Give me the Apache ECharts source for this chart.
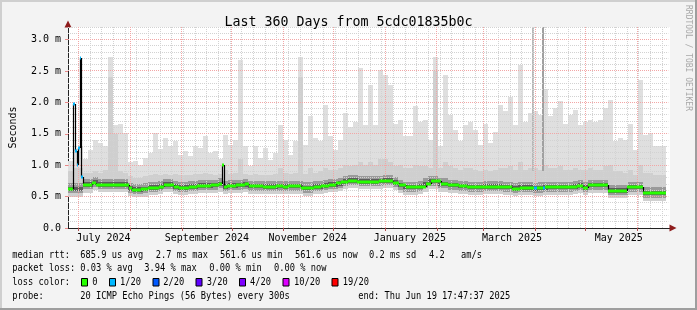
<!DOCTYPE html>
<html>
<head>
<meta charset="utf-8">
<script src="https://cdn.jsdelivr.net/npm/echarts@6/dist/echarts.min.js"></script>
<style>
html, body { margin: 0; padding: 0; background: #f3f3f3; }
#smokeChart { width: 697px; height: 310px; }
</style>
</head>
<body>
<div id="smokeChart"></div>
<script>
// x is in days counted from Mon 24 Jun 2024 00:00
var startDay = 0.741;   // 24 Jun 2024 17:47
var endDay = 360.741;   // 19 Jun 2025 17:47
var dataEnd = 359.2;
var binDays = 3;

// smoke, one value per 3 day bin (ms)
var smokeMax = [
  1.06, 1.25, 1.30, 1.10, 1.24, 1.40, 1.35, 1.30, 2.72, 1.64,
  1.65, 1.51, 1.05, 1.06, 1.00, 1.11, 1.19, 1.51, 1.25, 1.43,
  1.30, 1.38, 1.16, 1.22, 1.14, 1.30, 1.27, 1.46, 1.20, 1.22,
  1.10, 1.48, 1.32, 1.40, 2.68, 1.30, 0.98, 1.30, 1.11, 1.27,
  1.09, 1.19, 1.64, 1.40, 1.16, 1.38, 2.73, 1.32, 1.78, 1.43,
  1.38, 1.96, 1.46, 1.24, 1.40, 1.83, 1.61, 1.69, 2.55, 1.64,
  2.28, 1.64, 2.52, 2.44, 2.28, 1.66, 1.72, 1.46, 1.46, 1.94,
  1.69, 1.72, 1.40, 2.73, 1.30, 2.44, 1.80, 1.56, 1.38, 1.64,
  1.69, 1.56, 1.32, 1.66, 1.35, 1.53, 1.96, 1.86, 2.09, 1.64,
  2.60, 1.69, 1.83, 1.86, 1.80, 2.22, 1.78, 1.91, 2.02, 1.66,
  1.80, 1.88, 1.64, 1.69, 1.72, 1.69, 1.72, 1.91, 2.04, 1.38,
  1.43, 1.40, 1.66, 1.24, 2.36, 1.48, 1.51, 1.30, 1.30, 1.30
];
var smokeHi = [
  0.90, 0.95, 0.95, 0.88, 0.88, 0.90, 0.88, 0.92, 2.40, 1.50,
  0.90, 0.88, 0.82, 0.80, 0.80, 0.82, 0.84, 0.86, 0.84, 0.86,
  0.84, 0.86, 0.84, 0.85, 0.84, 0.86, 0.86, 0.88, 0.86, 0.85,
  0.86, 0.92, 0.86, 0.88, 1.10, 0.86, 0.84, 0.86, 0.84, 0.85,
  0.84, 0.86, 0.95, 0.88, 0.86, 0.88, 2.40, 0.86, 0.95, 0.88,
  0.90, 0.95, 0.92, 0.92, 0.95, 1.00, 0.98, 1.00, 1.05, 1.00,
  1.05, 1.00, 1.10, 1.10, 1.05, 0.98, 1.00, 0.95, 0.95, 1.00,
  0.98, 0.98, 0.95, 2.50, 0.95, 1.05, 0.98, 0.95, 0.92, 0.95,
  0.95, 0.92, 0.90, 0.92, 0.90, 0.92, 0.95, 0.95, 0.98, 0.92,
  1.05, 0.92, 0.95, 0.95, 0.92, 1.00, 0.95, 0.95, 0.98, 0.92,
  0.92, 0.95, 0.92, 0.92, 0.95, 0.92, 0.92, 0.98, 1.00, 0.90,
  0.90, 0.88, 0.92, 0.85, 1.00, 0.88, 0.88, 0.85, 0.85, 0.85
];
// single samples that went off the top
var outlierDay = [279.2, 284.9];
var outlierTop = [3.2, 3.2];

// median rtt, step changes
var medDay = [
  0.741, 3.73, 4.81, 6.0, 7.02, 7.92, 8.81, 10.01, 15.4, 17.8,
  37.5, 39.3, 44.7, 48.9, 55.5, 58.5, 64.4, 67.4, 73.4, 78.2,
  86.6, 91.3, 93.3, 94.0, 96.1, 101.5, 106.9, 109.3, 117.7, 125.4,
  129.6, 132.6, 140.4, 148.2, 152.3, 157.1, 161.3, 164.3, 168.5, 173.9,
  187.0, 191.2, 195.4, 199.0, 203.2, 212.2, 215.2, 218.2, 224.2, 228.4,
  235.0, 240.3, 251.1, 263.0, 267.2, 272.0, 280.4, 282.1, 285.5, 286.6,
  289.9, 303.1, 306.1, 309.7, 312.6, 324.6, 336.0, 345.6
];
var medVal = [
  0.62, 1.98, 1.22, 1.0, 1.28, 2.7, 0.81, 0.685, 0.72, 0.69,
  0.63, 0.61, 0.62, 0.64, 0.66, 0.69, 0.66, 0.64, 0.655, 0.67,
  0.68, 0.70, 1.0, 0.655, 0.67, 0.68, 0.695, 0.665, 0.66, 0.665,
  0.655, 0.665, 0.635, 0.655, 0.67, 0.69, 0.71, 0.74, 0.75, 0.74,
  0.745, 0.755, 0.72, 0.68, 0.65, 0.66, 0.70, 0.745, 0.70, 0.68,
  0.665, 0.65, 0.655, 0.65, 0.625, 0.64, 0.63, 0.635, 0.64, 0.645,
  0.65, 0.66, 0.675, 0.64, 0.68, 0.595, 0.65, 0.555
];
var medLoss = [
  0, 1, 1, 1, 1, 1, 1, 0, 0, 0,
  0, 0, 0, 0, 0, 0, 0, 0, 0, 0,
  0, 0, 0, 0, 0, 0, 0, 0, 0, 0,
  0, 0, 0, 0, 0, 0, 0, 0, 0, 0,
  0, 0, 0, 0, 0, 0, 0, 0, 0, 0,
  0, 0, 0, 0, 0, 0, 1, 0, 1, 0,
  0, 0, 0, 0, 0, 0, 0, 0
];

var monthStartDays = [7, 38, 69, 99, 130, 160, 191, 222, 250, 281, 311, 342];
var monthLabelDays = [22, 84, 144.5, 205.8, 267, 331];
var monthLabels = ['July 2024', 'September 2024', 'November 2024', 'January 2025', 'March 2025', 'May 2025'];
var yLabelValues = [0, 0.5, 1, 1.5, 2, 2.5, 3];
var lossColors = ['#26ff00', '#00b8ff', '#0059ff', '#5e00ff', '#7e00ff', '#dd00ff', '#ff0000'];
var lossNames = ['0', '1/20', '2/20', '3/20', '4/20', '10/20', '19/20'];

var mono = '"DejaVu Sans Mono", monospace';
var majorColor = '#f2a6a6';
var minorColor = '#d2d2d2';

function medianAt(d) {
  var v = medVal[0];
  for (var j = 0; j < medDay.length; j++) {
    if (medDay[j] <= d) v = medVal[j];
  }
  return v;
}

// smoke rows: [d0, d1, core, hi, max]
var smokeRows = [];
var prevCore = medVal[0];
for (var i = 0; i < smokeMax.length; i++) {
  var d0 = startDay + i * binDays;
  var d1 = Math.min(d0 + binDays, dataEnd);
  var core = medianAt(d0 + binDays / 2);
  if (core > smokeHi[i]) core = prevCore;
  prevCore = core;
  smokeRows.push([d0, d1, core, smokeHi[i], smokeMax[i]]);
}
var outlierRows = outlierDay.map(function (d, k) {
  return [d, d + 1.3, 0.9, outlierTop[k], k];
});

// median rows: [d0, d1, value, previous value, loss]
var medRows = medDay.map(function (d, k) {
  return [d, k < medDay.length - 1 ? medDay[k + 1] : dataEnd, medVal[k], k > 0 ? medVal[k - 1] : medVal[k], medLoss[k]];
});

// grid rows: [vertical?, value, major?]
var gridRows = [];
for (var w = 7; w < endDay; w += 7) gridRows.push([1, w, 0]);
for (var h = 1; h <= 32; h++) {
  if (h % 5 !== 0) gridRows.push([0, h / 10, 0]);
}
monthStartDays.forEach(function (d) { gridRows.push([1, d, 1]); });
for (var m = 5; m <= 30; m += 5) gridRows.push([0, m / 10, 1]);

var chart = echarts.init(document.getElementById('smokeChart'));

var legendRows = [
  [255, [[12.3, 'median rtt:'], [80.3, '685.9 us avg'], [155.7, '2.7 ms max'], [220, '561.6 us min'],
         [295, '561.6 us now'], [369, '0.2 ms sd'], [429, '4.2'], [461, 'am/s']]],
  [268.5, [[12.3, 'packet loss:'], [80.3, '0.03 % avg'], [144.3, '3.94 % max'], [209.3, '0.00 % min'], [274, '0.00 % now']]],
  [282, [[12.3, 'loss color:'], [92.3, lossNames[0]], [120, lossNames[1]], [163.3, lossNames[2]], [206.7, lossNames[3]],
         [250, lossNames[4]], [294, lossNames[5]], [342.7, lossNames[6]]]],
  [296, [[12.3, 'probe:'], [80.3, '20 ICMP Echo Pings (56 Bytes) every 300s'], [358.3, 'end: Thu Jun 19 17:47:37 2025']]]
];
var boxX = [81.5, 109.5, 153, 196, 239.5, 283, 332];

var graphics = [
  { type: 'rect', shape: { x: 0, y: 0, width: 697, height: 2 }, style: { fill: '#cfcfcf' } },
  { type: 'rect', shape: { x: 0, y: 0, width: 2, height: 310 }, style: { fill: '#cfcfcf' } },
  { type: 'rect', shape: { x: 0, y: 308, width: 697, height: 2 }, style: { fill: '#9e9e9e' } },
  { type: 'rect', shape: { x: 695, y: 0, width: 2, height: 310 }, style: { fill: '#9e9e9e' } },
  { type: 'text', x: 688, y: 5, rotation: -Math.PI / 2,
    style: { text: 'RRDTOOL / TOBI OETIKER', font: '8px ' + mono, fill: '#a8a8a8', align: 'left', verticalAlign: 'middle' } }
];
legendRows.forEach(function (row) {
  row[1].forEach(function (p) {
    graphics.push({ type: 'text', x: p[0], y: row[0], scaleX: 0.87,
      style: { text: p[1], font: '10px ' + mono, fill: '#000', align: 'left', verticalAlign: 'middle' } });
  });
});
boxX.forEach(function (x, k) {
  graphics.push({ type: 'rect', shape: { x: x, y: 278.5, width: 6, height: 7.5 },
    style: { fill: lossColors[k], stroke: '#000', lineWidth: 1 } });
});

function smokeRect(api, d0, d1, lo, hi, color) {
  if (hi <= lo) return null;
  var a = api.coord([d0, Math.min(hi, 3.2)]);
  var b = api.coord([d1, Math.max(lo, 0)]);
  var x0 = Math.round(a[0]), x1 = Math.round(b[0]);
  var y0 = Math.round(a[1]), y1 = Math.round(b[1]);
  return { type: 'rect', shape: { x: x0, y: y0, width: Math.max(x1 - x0, 1), height: y1 - y0 }, style: { fill: color } };
}

var option = {
  backgroundColor: '#f3f3f3',
  animation: false,
  title: {
    text: 'Last 360 Days from 5cdc01835b0c',
    left: 'center',
    top: 11,
    textStyle: { fontFamily: mono, fontSize: 13.3, fontWeight: 'normal', color: '#000' }
  },
  grid: { left: 66, right: 27, top: 27, bottom: 82, show: true, backgroundColor: '#fff', borderWidth: 0 },
  xAxis: [{
    type: 'value', min: startDay, max: 361.76, position: 'bottom',
    splitLine: { show: false },
    axisLine: { onZero: false, lineStyle: { color: '#222', width: 1 } },
    axisTick: { show: true, customValues: monthStartDays, length: 3, lineStyle: { color: '#b05050' } },
    axisLabel: {
      customValues: monthLabelDays, margin: 5, color: '#000', fontFamily: mono, fontSize: 10,
      formatter: function (v) {
        var k = monthLabelDays.indexOf(v);
        return k >= 0 ? monthLabels[k] : '';
      }
    }
  }, {
    type: 'value', min: startDay, max: 361.76, position: 'bottom',
    splitLine: { show: false }, axisTick: { show: false }, axisLabel: { show: false },
    axisLine: { onZero: false, symbol: ['none', 'triangle'], symbolSize: [7, 7], symbolOffset: [0, 3],
      lineStyle: { color: '#8e1c1c', width: 0 } }
  }],
  yAxis: [{
    type: 'value', min: 0, max: 3.2, position: 'left',
    name: 'Seconds', nameLocation: 'middle', nameGap: 50,
    nameTextStyle: { fontFamily: mono, fontSize: 10, color: '#000' },
    splitLine: { show: false },
    axisLine: { onZero: false, lineStyle: { color: '#222', width: 1 } },
    axisTick: { show: true, customValues: yLabelValues, length: 3, lineStyle: { color: '#e88888' } },
    axisLabel: {
      customValues: yLabelValues, margin: 7, color: '#000', fontFamily: mono, fontSize: 10,
      formatter: function (v) { return v === 0 ? '0.0' : v.toFixed(1) + ' m'; }
    }
  }, {
    type: 'value', min: 0, max: 3.2, position: 'left',
    splitLine: { show: false }, axisTick: { show: false }, axisLabel: { show: false },
    axisLine: { onZero: false, symbol: ['none', 'triangle'], symbolSize: [7, 7], symbolOffset: [0, 3],
      lineStyle: { color: '#8e1c1c', width: 0 } }
  }],
  graphic: graphics,
  series: [{
    name: 'smoke',
    type: 'custom',
    z: 2,
    data: smokeRows,
    renderItem: function (params, api) {
      var d0 = api.value(0), d1 = api.value(1), c = api.value(2), hi = api.value(3), mx = api.value(4);
      var bands = [
        [c - 0.12, c - 0.07, '#d0d0d0'],
        [c - 0.07, c - 0.035, '#9a9a9a'],
        [c - 0.035, c + 0.04, '#5c5c5c'],
        [c + 0.04, c + 0.09, '#9a9a9a'],
        [c + 0.09, hi, '#cfcfcf'],
        [Math.max(hi, c + 0.09), mx, '#dfdfdf']
      ];
      var kids = [];
      bands.forEach(function (b) {
        var r = smokeRect(api, d0, d1, b[0], b[1], b[2]);
        if (r) kids.push(r);
      });
      return { type: 'group', children: kids };
    }
  }, {
    name: 'outliers',
    type: 'custom',
    z: 3,
    data: outlierRows,
    renderItem: function (params, api) {
      return smokeRect(api, api.value(0), api.value(1), api.value(2), api.value(3),
        api.value(4) === 0 ? '#b8b8b8' : '#a0a0a0');
    }
  }, {
    name: 'grid',
    type: 'custom',
    z: 4,
    silent: true,
    data: gridRows,
    renderItem: function (params, api) {
      var vertical = api.value(0) === 1, v = api.value(1);
      var color = api.value(2) === 1 ? majorColor : minorColor;
      var a, b;
      if (vertical) {
        a = api.coord([v, 0]); b = api.coord([v, 3.2]);
        var x = Math.floor(a[0]) + 0.5;
        return { type: 'line', shape: { x1: x, y1: a[1], x2: x, y2: b[1] },
          style: { stroke: color, lineWidth: 1, lineDash: [1, 1] } };
      }
      a = api.coord([startDay, v]); b = api.coord([endDay, v]);
      var y = Math.floor(a[1]) + 0.5;
      return { type: 'line', shape: { x1: a[0], y1: y, x2: b[0], y2: y },
        style: { stroke: color, lineWidth: 1, lineDash: [1, 1] } };
    }
  }, {
    name: 'median rtt',
    type: 'custom',
    z: 10,
    data: medRows,
    renderItem: function (params, api) {
      var d0 = api.value(0), d1 = api.value(1), v = api.value(2), pv = api.value(3), loss = api.value(4);
      var p0 = api.coord([d0, v]), p1 = api.coord([d1, v]), pp = api.coord([d0, pv]);
      var x0 = Math.round(p0[0]), x1 = Math.max(Math.round(p1[0]), x0 + 1);
      var y = Math.round(p0[1]);
      var kids = [];
      if (pv !== v) {
        kids.push({ type: 'line', shape: { x1: x0 + 0.5, y1: Math.round(pp[1]), x2: x0 + 0.5, y2: y },
          style: { stroke: '#000', lineWidth: 1.2 } });
      }
      kids.push({ type: 'rect', shape: { x: x0, y: y - 1.5, width: x1 - x0, height: 3 },
        style: { fill: lossColors[loss] } });
      return { type: 'group', children: kids };
    }
  }]
};
chart.setOption(option);
</script>
</body>
</html>
